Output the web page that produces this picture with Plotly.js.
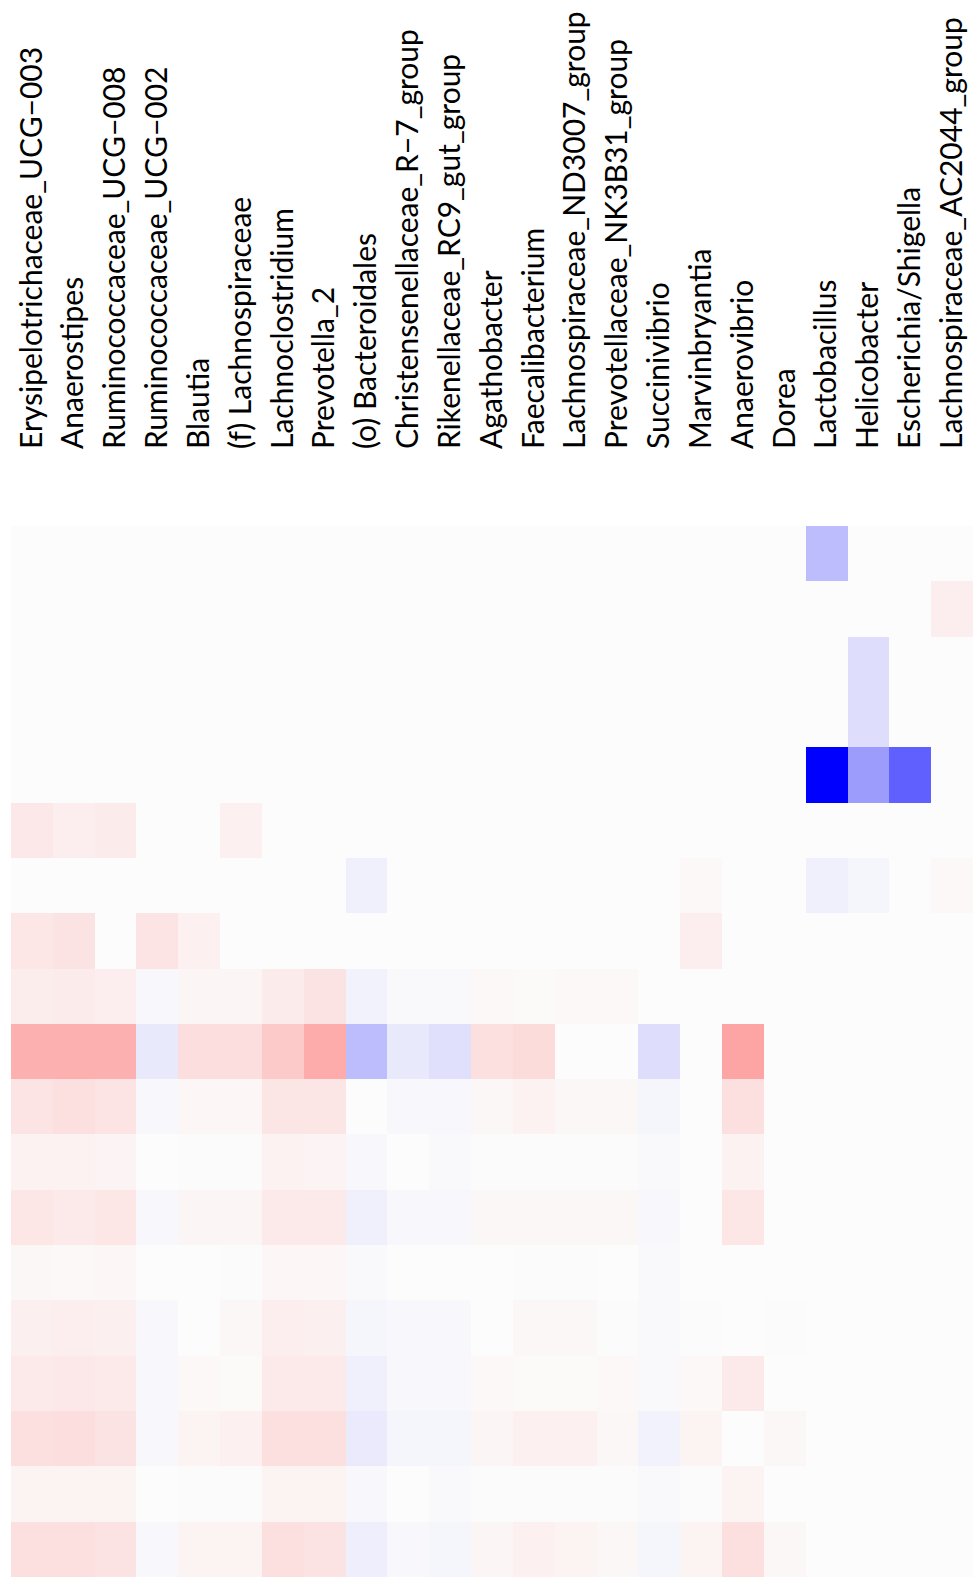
<!DOCTYPE html>
<html>
<head>
<meta charset="utf-8">
<script src="https://cdn.plot.ly/plotly-3.0.1.min.js"></script>
<style>html,body{margin:0;padding:0;background:#fff;}#chart{width:980px;height:1585px;}</style>
</head>
<body>
<div id="chart"></div>
<script>
const genera = [
  "Erysipelotrichaceae_UCG\u2212003","Anaerostipes","Ruminococcaceae_UCG\u2212008","Ruminococcaceae_UCG\u2212002",
  "Blautia","(f) Lachnospiraceae","Lachnoclostridium","Prevotella_2","(o) Bacteroidales",
  "Christensenellaceae_R\u22127_group","Rikenellaceae_RC9_gut_group","Agathobacter","Faecalibacterium",
  "Lachnospiraceae_ND3007_group","Prevotellaceae_NK3B31_group","Succinivibrio","Marvinbryantia",
  "Anaerovibrio","Dorea","Lactobacillus","Helicobacter","Escherichia/Shigella","Lachnospiraceae_AC2044_group"
];
const samples = ["S1","S2","S3","S4","S5","S6","S7","S8","S9","S10","S11","S12","S13","S14","S15","S16","S17","S18","S19"];

// correlation-like values, one row per sample (top to bottom), one entry per genus
const r01 = [0,0,0,0,0,0,0,0,0,0,0,0,0,0,0,0,0,0,0,-0.25,0,0,0];
const r02 = [0,0,0,0,0,0,0,0,0,0,0,0,0,0,0,0,0,0,0,0,0,0,0.055];
const r03 = [0,0,0,0,0,0,0,0,0,0,0,0,0,0,0,0,0,0,0,0,-0.12,0,0];
const r04 = [0,0,0,0,0,0,0,0,0,0,0,0,0,0,0,0,0,0,0,0,-0.12,0,0];
const r05 = [0,0,0,0,0,0,0,0,0,0,0,0,0,0,0,0,0,0,0,-1,-0.38,-0.62,0];
const r06 = [0.08,0.056,0.067,0,0,0.048,0,0,0,0,0,0,0,0,0,0,0,0,0,0,0,0,0];
const r07 = [0,0,0,0,0,0,0,0,-0.048,0,0,0,0,0,0,0,0.016,0,0,-0.048,-0.028,0,0.016];
const r08 = [0.087,0.1,0,0.095,0.048,0,0,0,0,0,0,0,0,0,0,0,0.056,0,0,0,0,0,0];
const r09 = [0.06,0.067,0.056,-0.015,0.028,0.028,0.067,0.1,-0.04,-0.012,-0.012,0.016,0.012,0.016,0.016,0,0,0,0,0,0,0,0];
const r10 = [0.3,0.3,0.3,-0.075,0.12,0.12,0.2,0.32,-0.25,-0.075,-0.11,0.11,0.13,0,0,-0.12,0,0.35,0,0,0,0,0];
const r11 = [0.095,0.11,0.095,-0.02,0.025,0.025,0.09,0.09,0,-0.016,-0.016,0.02,0.04,0.02,0.02,-0.028,0,0.11,0,0,0,0,0];
const r12 = [0.04,0.04,0.03,0,0.003,0.003,0.04,0.03,-0.02,0,-0.01,0.003,0.003,0.003,0.003,-0.01,0,0.04,0,0,0,0,0];
const r13 = [0.087,0.075,0.087,-0.015,0.028,0.028,0.07,0.07,-0.048,-0.015,-0.016,0.02,0.02,0.02,0.02,-0.02,0,0.087,0,0,0,0,0];
const r14 = [0.02,0.015,0.025,0,0,0.003,0.025,0.025,-0.012,0,0,0,0.003,0.003,0,-0.01,0,0,0,0,0,0,0];
const r15 = [0.05,0.055,0.05,-0.015,0,0.02,0.055,0.05,-0.028,-0.015,-0.015,0,0.02,0.02,0.003,-0.012,0.003,0,0.003,0,0,0,0];
const r16 = [0.07,0.08,0.07,-0.015,0.016,0.01,0.07,0.07,-0.048,-0.015,-0.016,0.016,0.012,0.012,0.016,-0.012,0.016,0.07,0,0,0,0,0];
const r17 = [0.11,0.12,0.1,-0.02,0.035,0.048,0.11,0.11,-0.07,-0.028,-0.028,0.028,0.048,0.048,0.02,-0.04,0.035,0,0.02,0,0,0,0];
const r18 = [0.035,0.035,0.035,0,0.003,0.003,0.035,0.035,-0.02,0,-0.01,-0.005,0.003,0.003,0.003,-0.01,0.003,0.035,0,0,0,0,0];
const r19 = [0.11,0.11,0.1,-0.016,0.035,0.035,0.11,0.1,-0.056,-0.016,-0.028,0.028,0.048,0.035,0.02,-0.028,0.035,0.11,0.02,0,0,0,0];

const zRows = [r01,r02,r03,r04,r05,r06,r07,r08,r09,r10,r11,r12,r13,r14,r15,r16,r17,r18,r19];

const trace = {
  type: 'heatmap',
  x: genera,
  y: samples,
  z: zRows,
  zmin: -1, zmax: 1,
  colorscale: [[0,'#0000FF'],[0.5,'#FCFCFC'],[1,'#FF0000']],
  showscale: false,
  xgap: 0, ygap: 0,
  hoverinfo: 'x+y+z'
};

const layout = {
  width: 980, height: 1585,
  margin: {l: 10.5, r: 7, t: 526, b: 8, pad: 0},
  paper_bgcolor: '#FFFFFF',
  plot_bgcolor: '#FFFFFF',
  showlegend: false,
  font: {family: 'Lato, "Open Sans", sans-serif', color: '#000000'},
  xaxis: {
    type: 'category', side: 'top', tickangle: -90,
    ticks: '', showgrid: false, zeroline: false, showline: false,
    ticklabelstandoff: 76,
    tickfont: {family: 'Lato, "Open Sans", sans-serif', size: 30, color: '#000000'},
    automargin: false
  },
  yaxis: {
    type: 'category', autorange: 'reversed',
    showticklabels: false, ticks: '', showgrid: false, zeroline: false, showline: false,
    automargin: false
  }
};

Plotly.newPlot('chart', [trace], layout, {displayModeBar: false, staticPlot: true});
</script>
</body>
</html>
